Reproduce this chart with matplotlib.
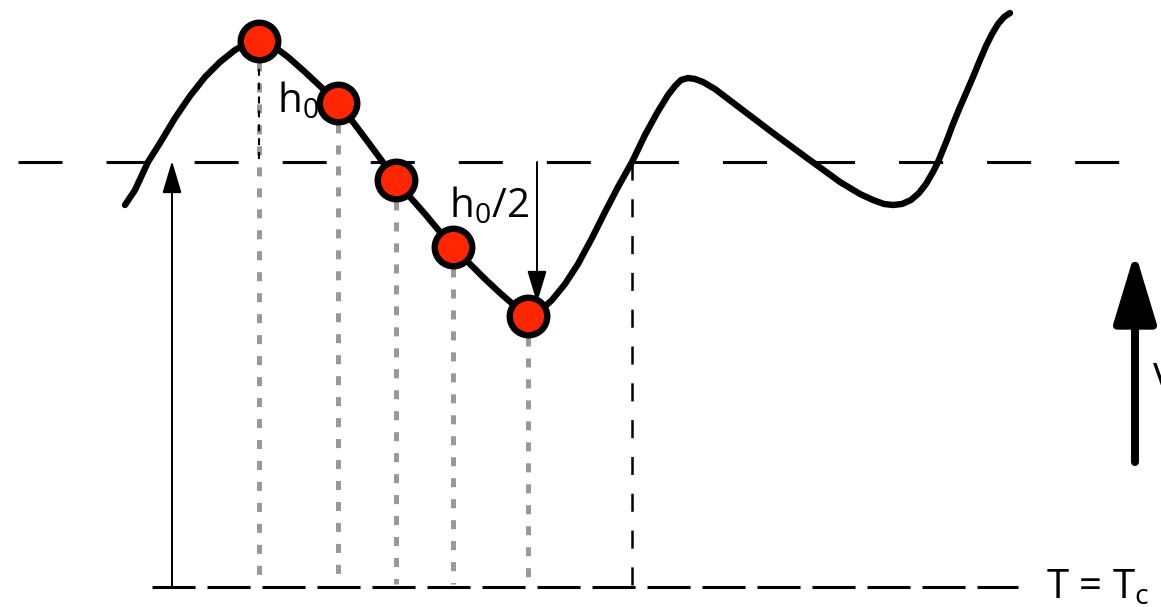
import matplotlib
matplotlib.use("Agg")
import matplotlib.pyplot as plt

plt.rcParams["font.family"] = ["Open Sans", "DejaVu Sans"]
plt.rcParams["mathtext.fontset"] = "custom"
plt.rcParams["mathtext.rm"] = "Open Sans"
plt.rcParams["lines.scale_dashes"] = False

# curve (pixel coords, y down)
curve_x = [125, 135, 148, 160, 175, 190, 205, 220, 235, 248, 259, 272, 288, 305, 322,
           338, 353, 368, 382, 396, 410, 425, 440, 453, 468, 484, 500, 515, 528, 540,
           552, 565, 578, 592, 605, 618, 632, 645, 657, 668, 675, 681, 688, 695, 703,
           715, 740, 773, 807, 840, 860, 873, 884, 893, 902, 911, 919, 926, 933, 938,
           947, 953, 960, 967, 973, 980, 986, 992, 998, 1004, 1010]
curve_y = [205, 190, 162, 143, 118, 96, 77, 62, 50, 43, 40, 45, 57, 72, 88,
           104, 122, 142, 161, 180, 197, 214, 232, 247, 262, 278, 293, 306, 315, 311,
           300, 284, 264, 238, 212, 187, 162, 135, 113, 95, 86, 80, 78, 79, 82,
           89, 108, 133, 158, 182, 194, 200, 204, 205, 204, 200, 193, 184, 172, 162,
           140, 124, 107, 91, 77, 60, 46, 34, 24, 17, 13]

point_x = [259, 338, 396, 453, 528]
point_y = [41, 103, 180, 247, 316]

upper_y = 162
lower_y = 587
cross_x = 632

fig = plt.figure(figsize=(11.61, 6.07), dpi=100)
ax = fig.add_axes([0, 0, 1, 1])
ax.set_xlim(0, 1161)
ax.set_ylim(607, 0)
ax.axis("off")

# horizontal reference levels
ax.plot([18, 1161], [upper_y, upper_y], color="black", lw=2.2,
        linestyle=(0, (31.7, 31.7)), zorder=1)
ax.plot([152, 1018], [lower_y, lower_y], color="black", lw=2.2,
        linestyle=(0, (31, 8.6)), zorder=1)

# vertical drops from the points
for px, py in zip(point_x, point_y):
    ax.plot([px, px], [py, lower_y - 3], color="#999999", lw=3.6,
            linestyle=(0, (6.5, 8.6)), zorder=1)
ax.plot([point_x[0], point_x[0]], [point_y[0], upper_y], color="black", lw=1.5,
        linestyle=(0, (5, 5)), zorder=1.5)
ax.plot([cross_x, cross_x], [upper_y, lower_y], color="black", lw=1.8,
        linestyle=(0, (13, 13.5)), zorder=1)

ax.plot(curve_x, curve_y, color="black", lw=4.6, solid_capstyle="round",
        solid_joinstyle="round", zorder=2)
ax.plot(point_x, point_y, "o", ms=27, mfc="#ff2600", mec="black", mew=4.6, zorder=3)

# arrows
thin = dict(arrowstyle="-|>,head_length=20,head_width=6", mutation_scale=1,
            lw=1.4, color="black", shrinkA=0, shrinkB=0)
ax.annotate("", xy=(172, 161), xytext=(172, lower_y), arrowprops=thin, zorder=2)
ax.annotate("", xy=(537, 303), xytext=(537, upper_y), arrowprops=thin, zorder=2)
ax.annotate("", xy=(1135, 252), xytext=(1135, 462),
            arrowprops=dict(arrowstyle="-|>,head_length=43,head_width=13",
                            mutation_scale=1, lw=5.8, color="black",
                            shrinkA=0, shrinkB=0), zorder=2)

fs = 29
ax.text(277, 112, r"h$_\mathregular{0}$", fontsize=fs, va="baseline", ha="left")
ax.text(449, 217, r"h$_\mathregular{0}$/2", fontsize=fs, va="baseline", ha="left")
ax.text(1046, 598, r"T = T$_\mathregular{c}$", fontsize=fs, va="baseline", ha="left")
ax.text(1153, 392, "V", fontsize=fs, va="baseline", ha="left", clip_on=False)

fig.savefig("out.png", dpi=100)
